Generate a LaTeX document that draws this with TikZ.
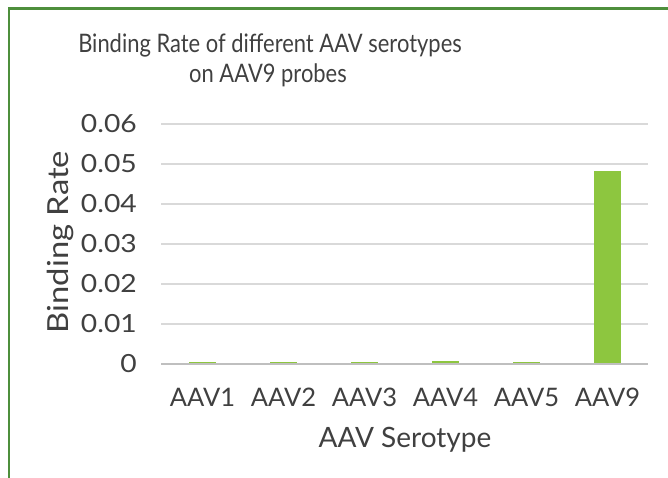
\documentclass[tikz,border=0pt]{standalone}
\usepackage{graphicx}
\usepackage{fontspec}
\setmainfont{Lato}
\newfontfamily\titlefont[FakeStretch=0.86]{Lato}
\newfontfamily\tickfont[FakeStretch=1.13]{Lato}
\usetikzlibrary{calc}

\definecolor{framegreen}{HTML}{4E8F3C}
\definecolor{bargreen}{HTML}{8DC63F}
\definecolor{gridgray}{HTML}{D9D9D9}
\definecolor{axisgray}{HTML}{BFBFBF}
\definecolor{textgray}{HTML}{404040}

\tikzset{
  gridline/.style={gridgray, line width=1.3pt},
  ticklabel/.style={anchor=east, inner sep=0pt, text=textgray, font=\tickfont\fontsize{25}{25}\selectfont},
  catlabel/.style={anchor=base, inner sep=0pt, text=textgray, font=\fontsize{25.5}{25.5}\selectfont},
  axistitle/.style={inner sep=0pt, text=textgray, font=\fontsize{28}{28}\selectfont},
  bar/.style={fill=bargreen, draw=none}
}

\begin{document}
\begin{tikzpicture}[x=1pt, y=-1pt]
            \useasboundingbox (0,0) rectangle (668,478);
            % frame
            \draw[framegreen, line width=2.2pt] (9,478)--(9,8.5)--(668,8.5);
            % title
            \node[anchor=base, inner sep=0pt, text=textgray, font=\titlefont\fontsize{25.5}{25.5}\selectfont] (title1) at (270,53) {Binding Rate of different AAV serotypes};
            \node[anchor=base, inner sep=0pt, text=textgray, font=\titlefont\fontsize{25.5}{25.5}\selectfont] (title2) at (268,83) {on AAV9 probes};
            % grid and ticks
            \foreach \v/\lab in {1/0.01,2/0.02,3/0.03,4/0.04,5/0.05,6/0.06}{
                \draw[gridline] (161,364-40*\v)--(648,364-40*\v);
                \node[ticklabel] (tick\v) at (137,364-40*\v) {\lab};
            }
            \node[ticklabel] (tick0) at (137,364) {0};
            % bars
            \foreach \i/\h in {0/2.2,1/2.2,2/2.2,3/3.0,4/2.2,5/193}{
                \fill[bar] (189+81*\i,364) rectangle ++(27,-\h);
            }
            \draw[axisgray, line width=1.2pt] (161,364)--(648,364);
            % category labels
            \foreach \i/\lab in {0/AAV1,1/AAV2,2/AAV3,3/AAV4,4/AAV5,5/AAV9}{
                \node[catlabel] (cat\i) at (202.5+81*\i,406) {\lab};
            }
            % axis titles
            \node[axistitle, anchor=base] (xtitle) at (405,447) {AAV Serotype};
            \node[axistitle, font=\tickfont\fontsize{29}{29}\selectfont, anchor=center] (ytitle) at (60,242) {\rotatebox{90}{Binding Rate}};
        \end{tikzpicture}
\end{document}
